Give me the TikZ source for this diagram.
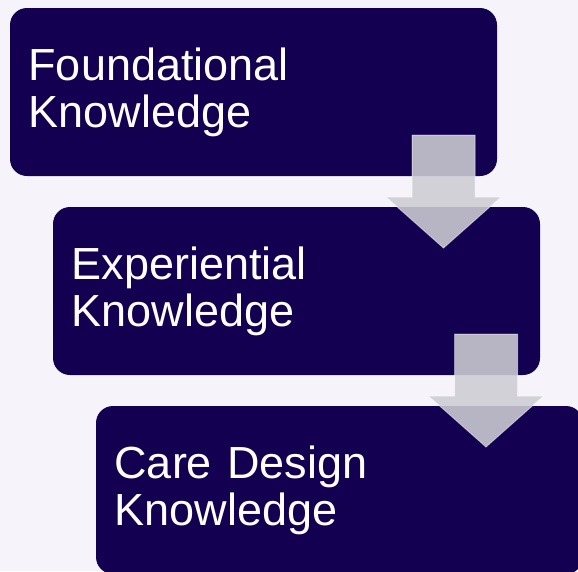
\documentclass[tikz,border=0pt]{standalone}
\usepackage{fontspec}
\setmainfont{Liberation Sans}

\definecolor{stagenavy}{RGB}{19,0,80}
\definecolor{pagebg}{RGB}{246,244,250}
\definecolor{arrowgray}{RGB}{206,205,212}

\tikzset{
  stage/.style={rectangle, rounded corners=17pt, fill=stagenavy, text=white,
    minimum width=487pt, minimum height=168pt, text width=450pt,
    inner xsep=18pt, align=left, font=\fontsize{45}{47}\selectfont},
  flowarrow/.style={fill=arrowgray, fill opacity=0.88,
    draw=white, draw opacity=0.45, line width=1pt}
}

\begin{document}
\begin{tikzpicture}[x=1pt,y=-1pt]
                \useasboundingbox (0,0) rectangle (578,571);
                \clip (0,0) rectangle (578,571);
                \fill[pagebg] (0,0) rectangle (578,571);
                % the three knowledge stages, stepped down and to the right
                \node[stage] (F) at (253.5,92) {Foundational\\Knowledge};
                \node[stage] (E) at (296.5,291) {Experiential\\Knowledge};
                \node[stage] (C) at (339.5,490) {Care Design\\Knowledge};
                % block arrows between the stages
                \foreach \x/\y in {443.5/135, 486/334} {
                    \begin{scope}[shift={(\x,\y)}]
                        \draw[flowarrow] (-31.5,0) -- (31.5,0) -- (31.5,62)
                            -- (57.5,62) -- (0,113) -- (-57.5,62)
                            -- (-31.5,62) -- cycle;
                    \end{scope}
                }
            \end{tikzpicture}
\end{document}
